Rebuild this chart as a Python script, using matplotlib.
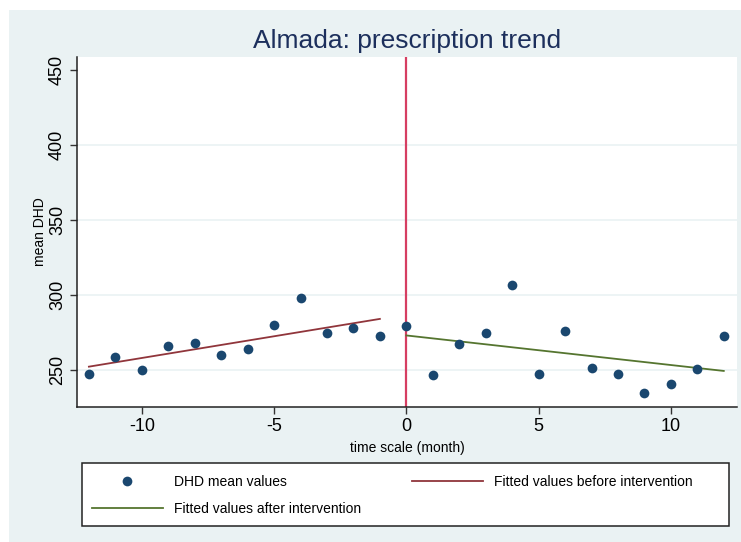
import matplotlib
matplotlib.use("Agg")
import matplotlib.pyplot as plt
import numpy as np
from matplotlib.lines import Line2D
from matplotlib.patches import Rectangle

plt.rcParams["font.family"] = ["Liberation Sans", "DejaVu Sans"]
plt.rcParams["axes.unicode_minus"] = False

# monthly mean DHD, months relative to the intervention
months = np.arange(-12, 13)
dhd_mean = np.array([
    247.5, 258.9, 249.8, 266.2, 268.2, 259.8, 264.4, 280.4, 298.0, 274.9, 278.2, 272.7,
    279.5, 246.7, 267.3, 274.9, 306.4, 247.8, 275.8, 251.6, 247.8, 234.7, 241.1, 250.7, 272.9,
])
pre_months = np.arange(-12, 0)
post_months = np.arange(0, 13)

y_ticks = [250, 300, 350, 400, 450]
x_ticks = [-10, -5, 0, 5, 10]

BG = "#eaf2f3"
NAVY = "#1a476f"
MAROON = "#90353b"
OLIVE = "#55752f"
CRANBERRY = "#d63e62"

fig = plt.figure(figsize=(7.41, 5.42), dpi=100)
fig.patch.set_facecolor("white")
fig.patches.append(Rectangle((9 / 741, 0), 1, 532 / 542, transform=fig.transFigure,
                             facecolor=BG, edgecolor="none", zorder=-10))

ax = fig.add_axes([77 / 741, 135 / 542, 660 / 741, 350 / 542])
ax.set_facecolor("white")

# linear fits on each side of the intervention
pre_mask = np.isin(months, pre_months)
post_mask = np.isin(months, post_months)
pre_coef = np.polyfit(months[pre_mask], dhd_mean[pre_mask], 1)
post_coef = np.polyfit(months[post_mask], dhd_mean[post_mask], 1)

for y in y_ticks[:-1]:
    ax.axhline(y, color=BG, linewidth=1.2, zorder=0)

ax.plot(months, dhd_mean, "o", color=NAVY, markersize=7, markeredgewidth=0, zorder=4)
ax.plot(pre_months, np.polyval(pre_coef, pre_months), color=MAROON, linewidth=1.3, zorder=3)
ax.plot(post_months, np.polyval(post_coef, post_months), color=OLIVE, linewidth=1.3, zorder=3)
ax.axvline(0, color=CRANBERRY, linewidth=1.6, zorder=2)

ax.set_xlim(-12.45, 12.5)
ax.set_ylim(225.5, 458.5)
ax.set_xticks(x_ticks)
ax.set_yticks(y_ticks)
ax.set_yticklabels([str(v) for v in y_ticks], rotation=90, va="center")
ax.tick_params(axis="both", labelsize=13, length=5, width=1, color="#333333", pad=3)

for side in ("top", "right"):
    ax.spines[side].set_visible(False)
for side in ("left", "bottom"):
    ax.spines[side].set_color("#222222")
    ax.spines[side].set_linewidth(1.1)

ax.set_xlabel("time scale (month)", fontsize=10, labelpad=4)
ax.set_ylabel("mean DHD", fontsize=10, labelpad=1)

fig.text(407 / 741, 1 - 41 / 542, "Almada: prescription trend", ha="center", va="center",
         fontsize=19, color="#1c2f5c")

# legend box drawn separately so it can be wider than its contents
fig.patches.append(Rectangle((82 / 741, 16 / 542), 647 / 741, 63 / 542, transform=fig.transFigure,
                             facecolor="white", edgecolor="#222222", linewidth=1.1, zorder=1))

handles = [
    Line2D([], [], marker="o", linestyle="none", color=NAVY, markersize=7, markeredgewidth=0),
    Line2D([], [], color=OLIVE, linewidth=1.3),
    Line2D([], [], color=MAROON, linewidth=1.3),
]
labels = ["DHD mean values", "Fitted values after intervention", "Fitted values before intervention"]
leg = fig.legend(handles, labels, ncol=2, loc="upper left",
                 bbox_to_anchor=(92 / 741, 1 - 475 / 542),
                 fontsize=10, frameon=False,
                 handlelength=5.1, handletextpad=0.8, labelspacing=0.95, borderpad=0,
                 columnspacing=3.7, borderaxespad=0)
leg.set_zorder(2)

fig.savefig("out.png", dpi=100)
